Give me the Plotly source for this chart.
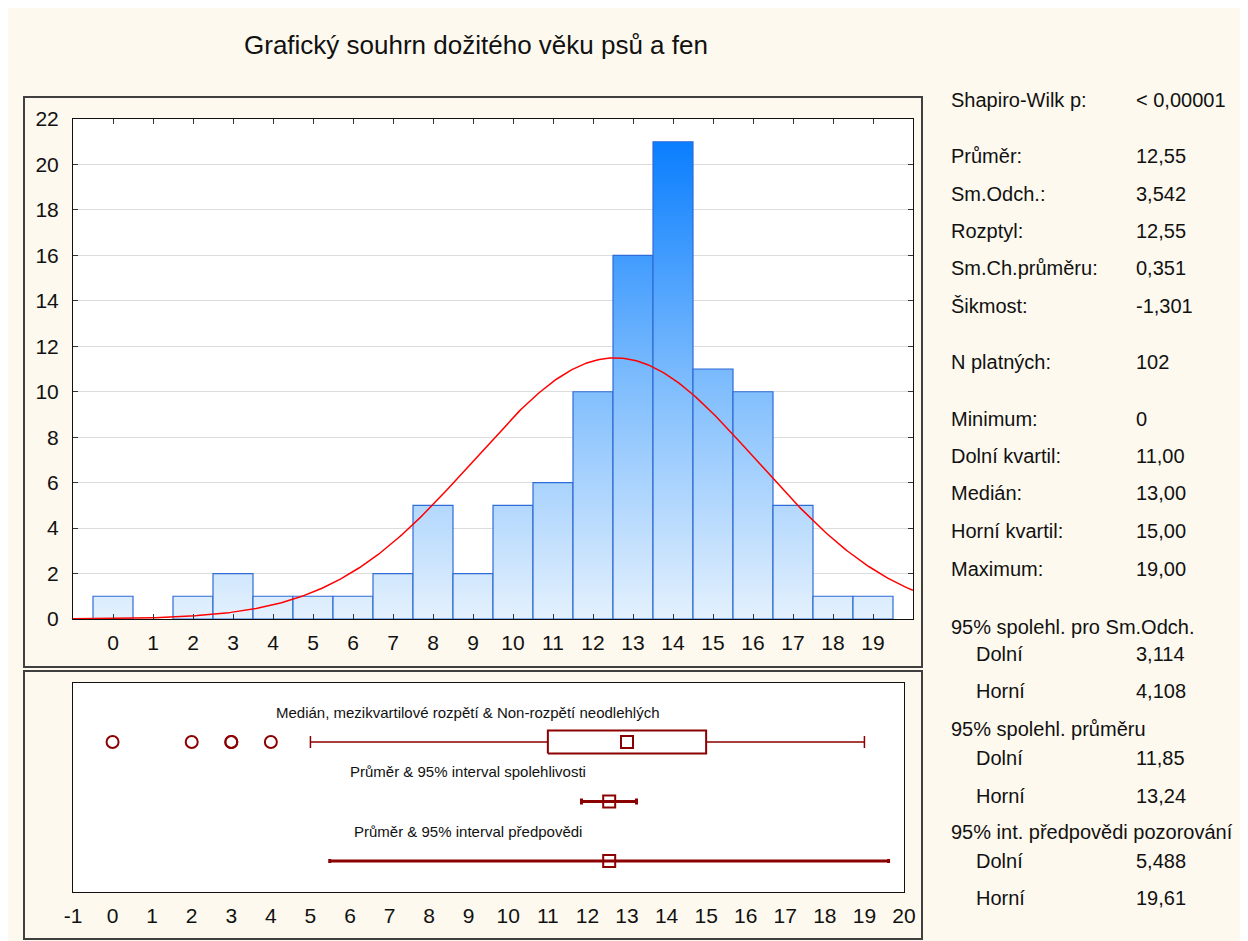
import numpy as np
import plotly.graph_objects as go

# ── data ────────────────────────────────────────────────────────────────
bins = list(range(20))
counts = [1, 0, 1, 2, 1, 1, 1, 2, 5, 2, 5, 6, 10, 16, 21, 11, 10, 5, 1, 1]

mean, sd, n = 12.55, 3.542, 102
q1, median, q3 = 11.0, 13.0, 15.0
whisk_lo, whisk_hi = 5.0, 19.0
outliers = [0, 2, 3, 3, 4]
ci_mean = (11.85, 13.24)
pred_int = (5.488, 19.61)

bottom_ticks = list(range(-1, 21))
bottom_ticktext = [str(t) for t in bottom_ticks]   # plain hyphen for "-1"

stat_labels = ["Shapiro-Wilk p:", "Průměr:", "Sm.Odch.:", "Rozptyl:", "Sm.Ch.průměru:",
               "Šikmost:", "N platných:", "Minimum:", "Dolní kvartil:", "Medián:",
               "Horní kvartil:", "Maximum:", "95% spolehl. pro Sm.Odch.", "Dolní", "Horní",
               "95% spolehl. průměru", "Dolní", "Horní",
               "95% int. předpovědi pozorování", "Dolní", "Horní"]
stat_values = ["< 0,00001", "12,55", "3,542", "12,55", "0,351", "-1,301", "102", "0",
               "11,00", "13,00", "15,00", "19,00", "", "3,114", "4,108", "",
               "11,85", "13,24", "", "5,488", "19,61"]

title = "Grafický souhrn dožitého věku psů a fen"
box_label = "Medián, mezikvartilové rozpětí & Non-rozpětí neodlehlých"
ci_label = "Průměr & 95% interval spolehlivosti"
pred_label = "Průměr & 95% interval předpovědi"

# ── layout helpers ──────────────────────────────────────────────────────
OFF = 8                      # page offset of the figure in the browser
W, H = 1248 - OFF, 941 - OFF
FONT = "Arial, 'Liberation Sans', sans-serif"
CREAM = "#fdf9ee"
DARKRED = "#8b0000"


def px(x):
    return (x - OFF) / W


def py(y):
    return 1 - (y - OFF) / H


fig = go.Figure()

# histogram bars with vertical gradient
for b, c in zip(bins, counts):
    if c == 0:
        continue
    fig.add_trace(go.Scatter(
        x=[b - 0.5, b + 0.5, b + 0.5, b - 0.5, b - 0.5],
        y=[0, 0, c, c, 0],
        mode="lines", fill="toself",
        line=dict(color="#2f6bd8", width=1.2),
        fillgradient=dict(type="vertical", start=0, stop=max(counts),
                          colorscale=[[0, "#e4f1fd"], [0.5, "#7dbcfd"], [1, "#0a7efe"]]),
        hoverinfo="skip", showlegend=False, xaxis="x", yaxis="y",
    ))

# fitted normal curve
xs = np.linspace(-1, 20, 400)
ys = n * np.exp(-0.5 * ((xs - mean) / sd) ** 2) / (sd * np.sqrt(2 * np.pi))
fig.add_trace(go.Scatter(x=xs, y=ys, mode="lines", line=dict(color="#ff0000", width=1.5),
                         hoverinfo="skip", showlegend=False, xaxis="x", yaxis="y"))

# ── bottom panel ────────────────────────────────────────────────────────
ROW_BOX, ROW_CI, ROW_PRED = 3, 2, 1
half = 0.193

# whiskers with caps
fig.add_trace(go.Scatter(
    x=[median], y=[ROW_BOX], mode="markers", marker=dict(size=1, color=DARKRED, opacity=0),
    error_x=dict(type="data", symmetric=False, array=[whisk_hi - median],
                 arrayminus=[median - whisk_lo], color=DARKRED, thickness=1.5, width=6),
    hoverinfo="skip", showlegend=False, xaxis="x2", yaxis="y2"))
# box
fig.add_trace(go.Scatter(
    x=[q1, q3, q3, q1, q1],
    y=[ROW_BOX - half, ROW_BOX - half, ROW_BOX + half, ROW_BOX + half, ROW_BOX - half],
    mode="lines", fill="toself", fillcolor="white", line=dict(color=DARKRED, width=2),
    hoverinfo="skip", showlegend=False, xaxis="x2", yaxis="y2"))
# median square
fig.add_trace(go.Scatter(
    x=[median], y=[ROW_BOX], mode="markers",
    marker=dict(symbol="square-open", size=12, color=DARKRED, line=dict(width=2)),
    hoverinfo="skip", showlegend=False, xaxis="x2", yaxis="y2"))
# outliers
fig.add_trace(go.Scatter(
    x=outliers, y=[ROW_BOX] * len(outliers), mode="markers",
    marker=dict(symbol="circle-open", size=12, color=DARKRED, line=dict(width=2)),
    hoverinfo="skip", showlegend=False, xaxis="x2", yaxis="y2"))
# mean CI
fig.add_trace(go.Scatter(
    x=[mean], y=[ROW_CI], mode="markers",
    marker=dict(symbol="square-open", size=12, color=DARKRED, line=dict(width=2)),
    error_x=dict(type="data", symmetric=False, array=[ci_mean[1] - mean],
                 arrayminus=[mean - ci_mean[0]], color=DARKRED, thickness=3, width=3),
    hoverinfo="skip", showlegend=False, xaxis="x2", yaxis="y2"))
# prediction interval
fig.add_trace(go.Scatter(
    x=[mean], y=[ROW_PRED], mode="markers",
    marker=dict(symbol="square-open", size=12, color=DARKRED, line=dict(width=2)),
    error_x=dict(type="data", symmetric=False, array=[pred_int[1] - mean],
                 arrayminus=[mean - pred_int[0]], color=DARKRED, thickness=3, width=2),
    hoverinfo="skip", showlegend=False, xaxis="x2", yaxis="y2"))

annotations = [
    dict(text=title, x=px(476), y=py(45), xref="paper", yref="paper", showarrow=False,
         xanchor="center", yanchor="middle", font=dict(size=26, color="#111")),
]
for txt, yy in [(box_label, 712), (ci_label, 771), (pred_label, 831)]:
    annotations.append(dict(text=txt, x=px(468), y=py(yy), xref="paper", yref="paper",
                            showarrow=False, xanchor="center", yanchor="middle",
                            font=dict(size=15, color="#111")))

# right-hand statistics
row_y = [100, 156, 194, 231, 268, 306, 362, 419, 456, 493, 531, 569,
         627, 654, 691, 729, 758, 796, 832, 861, 898]
for lab, val, yy in zip(stat_labels, stat_values, row_y):
    indent = lab in ("Dolní", "Horní")
    annotations.append(dict(text=lab, x=px(974 if indent else 949), y=py(yy),
                            xref="paper", yref="paper", showarrow=False,
                            xanchor="left", yanchor="middle", font=dict(size=20, color="#111")))
    if val:
        annotations.append(dict(text=val, x=px(1134), y=py(yy), xref="paper", yref="paper",
                                showarrow=False, xanchor="left", yanchor="middle",
                                font=dict(size=20, color="#111")))

shapes = [
    dict(type="rect", xref="paper", yref="paper", x0=px(24), x1=px(922), y0=py(667), y1=py(97),
         line=dict(color="#404040", width=2)),
    dict(type="rect", xref="paper", yref="paper", x0=px(24), x1=px(922), y0=py(939), y1=py(671),
         line=dict(color="#404040", width=2)),
]

fig.update_layout(
    width=W, height=H,
    margin=dict(l=0, r=0, t=0, b=0, autoexpand=False),
    paper_bgcolor=CREAM, plot_bgcolor="white",
    font=dict(family=FONT, color="#111"),
    showlegend=False,
    annotations=annotations, shapes=shapes,
    xaxis=dict(domain=[px(73), px(913)], range=[-1, 20], tickvals=bins,
               ticks="inside", ticklen=5, tickcolor="#333", showline=True, linecolor="#111",
               mirror="ticks", showgrid=False, zeroline=False, tickfont=dict(size=21),
               ticklabelstandoff=5, anchor="y"),
    yaxis=dict(domain=[py(619), py(119)], range=[0, 22], dtick=2,
               ticks="inside", ticklen=5, tickcolor="#333", showline=True, linecolor="#111",
               mirror="ticks", showgrid=True, gridcolor="#dcdcdc", zeroline=False,
               tickfont=dict(size=21), ticklabelstandoff=9, anchor="x"),
    xaxis2=dict(domain=[px(73), px(904)], range=[-1, 20], tickvals=bottom_ticks,
                ticktext=bottom_ticktext, ticks="",
                showline=True, linecolor="#111", mirror=True, showgrid=False, zeroline=False,
                tickfont=dict(size=21), ticklabelstandoff=5, anchor="y2"),
    yaxis2=dict(domain=[py(892), py(683)], range=[0.48, 3.99], showticklabels=False,
                ticks="", showline=True, linecolor="#111", mirror=True, showgrid=False,
                zeroline=False, anchor="x2"),
)

fig.write_html("out.html")
